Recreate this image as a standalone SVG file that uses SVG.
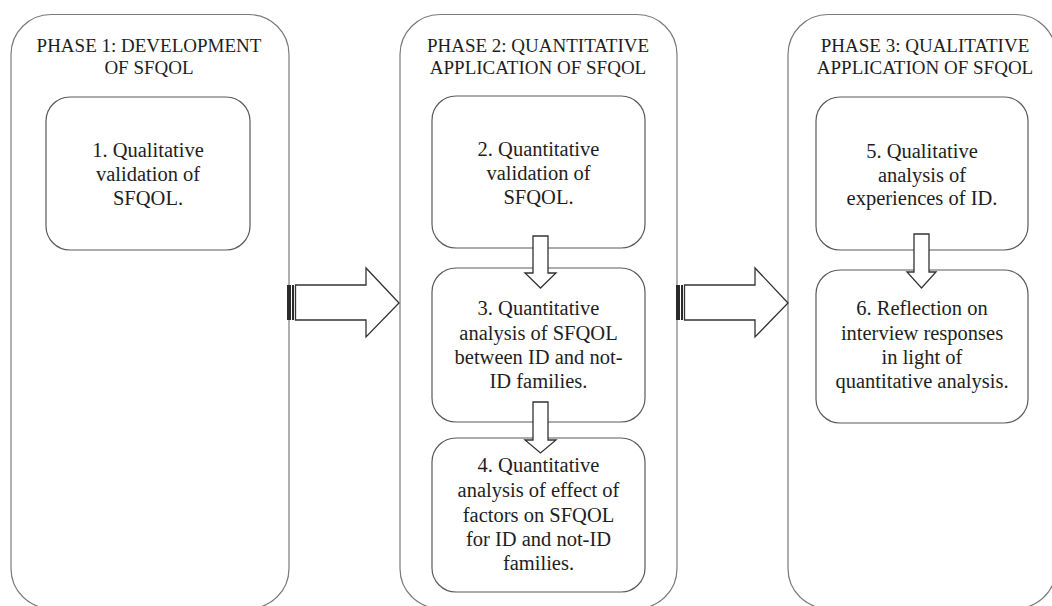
<svg xmlns="http://www.w3.org/2000/svg" width="1052" height="606" viewBox="0 0 1052 606">
<style>
.outer{fill:#fff;stroke:#7a7a7a;stroke-width:1.2}
.inner{fill:#fff;stroke:#5a5a5a;stroke-width:1.2}
.hd{font-family:"Liberation Serif","Times New Roman","DejaVu Serif",serif;font-size:19px;fill:#1e1e1e;text-anchor:middle}
.tx{font-family:"Liberation Serif","Times New Roman","DejaVu Serif",serif;font-size:20.5px;fill:#1e1e1e;text-anchor:middle}
.arr{fill:#fff;stroke:#333;stroke-width:1.3;stroke-linejoin:miter}
.bar{fill:#2a2a2a}
</style>
<rect width="1052" height="606" fill="#fff"/>
<g id="phase1">
<rect class="outer" x="11" y="14.5" width="278" height="594" rx="40" ry="40"/>
<text class="hd" x="149" y="52">PHASE 1: DEVELOPMENT</text>
<text class="hd" x="149" y="74">OF SFQOL</text>
</g>
<g id="phase2">
<rect class="outer" x="400" y="14.5" width="277" height="594" rx="40" ry="40"/>
<text class="hd" x="538" y="52">PHASE 2: QUANTITATIVE</text>
<text class="hd" x="538" y="74">APPLICATION OF SFQOL</text>
</g>
<g id="phase3">
<rect class="outer" x="788" y="14.5" width="268" height="594" rx="40" ry="40"/>
<text class="hd" x="925" y="52">PHASE 3: QUALITATIVE</text>
<text class="hd" x="925" y="74">APPLICATION OF SFQOL</text>
</g>
<g id="step1">
<rect class="inner" x="46" y="97" width="204" height="153" rx="24" ry="24"/>
<text class="tx" x="148" y="157">1. Qualitative</text>
<text class="tx" x="148" y="181">validation of</text>
<text class="tx" x="148" y="205">SFQOL.</text>
</g>
<g id="step2">
<rect class="inner" x="432" y="96" width="213" height="152" rx="24" ry="24"/>
<text class="tx" x="538.5" y="156">2. Quantitative</text>
<text class="tx" x="538.5" y="180">validation of</text>
<text class="tx" x="538.5" y="204">SFQOL.</text>
</g>
<g id="step3">
<rect class="inner" x="432" y="268" width="213" height="154" rx="24" ry="24"/>
<text class="tx" x="538.5" y="315">3. Quantitative</text>
<text class="tx" x="538.5" y="340">analysis of SFQOL</text>
<text class="tx" x="538.5" y="364">between ID and not-</text>
<text class="tx" x="538.5" y="388">ID families.</text>
</g>
<g id="step4">
<rect class="inner" x="432" y="438" width="213" height="154" rx="24" ry="24"/>
<text class="tx" x="538.5" y="472">4. Quantitative</text>
<text class="tx" x="538.5" y="497">analysis of effect of</text>
<text class="tx" x="538.5" y="522">factors on SFQOL</text>
<text class="tx" x="538.5" y="546">for ID and not-ID</text>
<text class="tx" x="538.5" y="570">families.</text>
</g>
<g id="step5">
<rect class="inner" x="816" y="97" width="212" height="153" rx="24" ry="24"/>
<text class="tx" x="922" y="158">5. Qualitative</text>
<text class="tx" x="922" y="182">analysis of</text>
<text class="tx" x="922" y="205">experiences of ID.</text>
</g>
<g id="step6">
<rect class="inner" x="816" y="270" width="212" height="153" rx="24" ry="24"/>
<text class="tx" x="922" y="315">6. Reflection on</text>
<text class="tx" x="922" y="340">interview responses</text>
<text class="tx" x="922" y="364">in light of</text>
<text class="tx" x="922" y="388">quantitative analysis.</text>
</g>
<g id="connectors">
<g id="big1">
<rect class="bar" x="287" y="285" width="4" height="35"/>
<rect class="bar" x="292" y="285" width="2" height="35"/>
<polygon class="arr" points="295.5,285 366,285 366,268 399,303 366,337 366,320 295.5,320"/>
</g>
<g id="big2" transform="translate(389,0)">
<rect class="bar" x="287" y="285" width="4" height="35"/>
<rect class="bar" x="292" y="285" width="2" height="35"/>
<polygon class="arr" points="295.5,285 366,285 366,268 399,303 366,337 366,320 295.5,320"/>
</g>
<polygon class="arr" points="533,236 548,236 548,273 556,273 540.5,288 525,273 533,273"/>
<polygon class="arr" points="533,402 548,402 548,440 556,440 540.5,453 525,440 533,440"/>
<polygon class="arr" points="914,234 929,234 929,272 936,272 921.5,288 907,272 914,272"/>
</g>
</svg>
